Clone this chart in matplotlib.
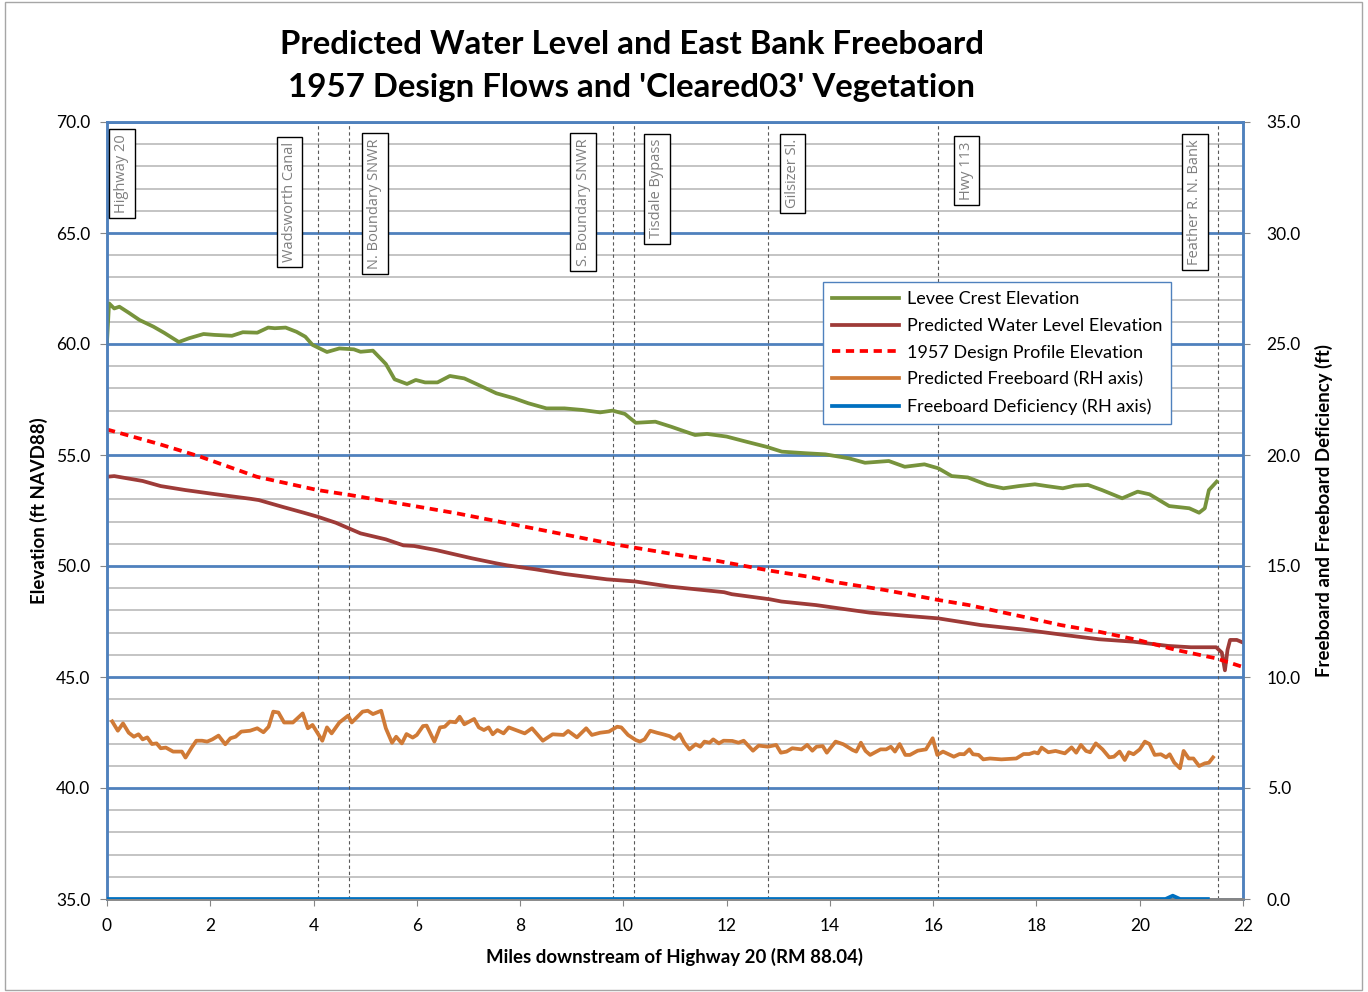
import matplotlib
matplotlib.use("Agg")
import matplotlib.pyplot as plt
from matplotlib.patches import Rectangle
from matplotlib.ticker import MultipleLocator
import matplotlib.transforms as mtransforms

plt.rcParams['font.family'] = ['Lato', 'DejaVu Sans']

# ---------------- data ----------------
levee_pts = [(0.0, 60.1), (0.04, 61.83), (0.14, 61.6), (0.24, 61.68), (0.42, 61.41), (0.63, 61.08),
             (0.90, 60.78), (1.11, 60.5), (1.39, 60.09), (1.59, 60.26), (1.87, 60.45), (2.08, 60.41),
             (2.42, 60.37), (2.63, 60.53), (2.91, 60.51), (3.12, 60.74), (3.25, 60.71), (3.46, 60.74),
             (3.67, 60.55), (3.84, 60.33), (3.98, 59.96), (4.26, 59.64), (4.50, 59.8), (4.78, 59.76),
             (4.91, 59.65), (5.15, 59.7), (5.40, 59.1), (5.57, 58.41), (5.81, 58.2), (5.98, 58.38),
             (6.16, 58.27), (6.40, 58.27), (6.64, 58.56), (6.92, 58.45), (7.20, 58.15), (7.54, 57.78),
             (7.89, 57.55), (8.16, 57.33), (8.51, 57.1), (8.86, 57.1), (9.20, 57.03), (9.55, 56.92),
             (9.79, 57.0), (10.03, 56.85), (10.24, 56.45), (10.62, 56.5), (10.93, 56.27), (11.39, 55.9),
             (11.62, 55.95), (12.00, 55.83), (12.38, 55.6), (12.77, 55.37), (13.07, 55.15), (13.53, 55.08),
             (13.91, 55.03), (14.37, 54.85), (14.68, 54.65), (15.14, 54.73), (15.45, 54.47), (15.83, 54.58),
             (16.10, 54.4), (16.36, 54.05), (16.67, 53.99), (17.05, 53.65), (17.36, 53.5), (17.66, 53.6),
             (17.97, 53.68), (18.20, 53.6), (18.51, 53.5), (18.74, 53.62), (19.00, 53.65), (19.27, 53.42),
             (19.66, 53.05), (19.96, 53.35), (20.19, 53.23), (20.57, 52.7), (20.96, 52.6), (21.15, 52.4),
             (21.26, 52.6), (21.34, 53.42), (21.49, 53.8)]

wse_pts = [(0.0, 54.02), (0.14, 54.05), (0.69, 53.83), (1.04, 53.6), (1.52, 53.42), (2.08, 53.24),
           (2.77, 53.03), (2.94, 52.97), (3.39, 52.67), (3.81, 52.4), (4.08, 52.22), (4.43, 51.95),
           (4.64, 51.74), (4.91, 51.47), (5.40, 51.2), (5.74, 50.93), (5.95, 50.9), (6.37, 50.72),
           (6.78, 50.5), (7.06, 50.35), (7.54, 50.12), (7.75, 50.03), (8.30, 49.85), (8.86, 49.64),
           (9.68, 49.4), (10.24, 49.3), (10.91, 49.07), (11.95, 48.82), (12.10, 48.73), (12.84, 48.5),
           (13.06, 48.4), (13.73, 48.24), (14.77, 47.9), (15.51, 47.75), (16.10, 47.64), (16.92, 47.34),
           (17.73, 47.14), (18.55, 46.89), (19.21, 46.7), (19.88, 46.59), (20.55, 46.4), (20.99, 46.34),
           (21.48, 46.34), (21.59, 46.1), (21.65, 45.3), (21.70, 46.22), (21.75, 46.67), (21.88, 46.67),
           (22.0, 46.55)]

design_pts = [(0.0, 56.15), (1.0, 55.5), (1.8, 54.93), (2.9, 54.02), (4.08, 53.42), (4.7, 53.2),
              (6.78, 52.37), (9.82, 50.98), (11.06, 50.5), (11.8, 50.24), (12.84, 49.79), (13.58, 49.52),
              (14.17, 49.25), (15.06, 48.92), (16.1, 48.47), (16.69, 48.24), (17.73, 47.72), (18.47, 47.34),
              (19.21, 47.04), (19.96, 46.67), (20.7, 46.22), (21.48, 45.84), (22.0, 45.45)]

freeboard_pts = [(0.10, 8.0), (0.21, 7.58), (0.31, 7.91), (0.42, 7.49), (0.52, 7.31), (0.61, 7.42),
                 (0.69, 7.19), (0.78, 7.28), (0.87, 6.98), (0.96, 7.01), (1.04, 6.79), (1.14, 6.82),
                 (1.28, 6.64), (1.45, 6.64), (1.52, 6.37), (1.65, 6.86), (1.73, 7.13), (1.84, 7.13),
                 (1.94, 7.09), (2.04, 7.19), (2.16, 7.36), (2.29, 6.97), (2.39, 7.24), (2.49, 7.31),
                 (2.60, 7.54), (2.77, 7.58), (2.91, 7.69), (3.03, 7.51), (3.13, 7.76), (3.22, 8.44),
                 (3.32, 8.4), (3.43, 7.95), (3.60, 7.95), (3.79, 8.36), (3.89, 7.69), (3.98, 7.84),
                 (4.17, 7.13), (4.26, 7.73), (4.35, 7.46), (4.50, 7.95), (4.67, 8.26), (4.74, 7.95),
                 (4.95, 8.44), (5.05, 8.48), (5.15, 8.33), (5.31, 8.48), (5.40, 7.69), (5.52, 7.04),
                 (5.60, 7.31), (5.71, 7.01), (5.80, 7.43), (5.92, 7.27), (6.00, 7.39), (6.12, 7.79),
                 (6.19, 7.81), (6.34, 7.09), (6.45, 7.73), (6.54, 7.76), (6.64, 7.99), (6.75, 7.96),
                 (6.83, 8.21), (6.92, 7.87), (7.11, 8.11), (7.20, 7.73), (7.30, 7.61), (7.39, 7.73),
                 (7.47, 7.42), (7.56, 7.61), (7.68, 7.46), (7.78, 7.73), (7.92, 7.61), (8.09, 7.46),
                 (8.23, 7.69), (8.44, 7.13), (8.63, 7.42), (8.84, 7.39), (8.93, 7.57), (9.10, 7.28),
                 (9.28, 7.69), (9.39, 7.39), (9.55, 7.49), (9.72, 7.54), (9.88, 7.76), (9.96, 7.73),
                 (10.09, 7.39), (10.24, 7.16), (10.32, 7.09), (10.41, 7.19), (10.52, 7.58), (10.65, 7.49),
                 (10.77, 7.42), (10.89, 7.34), (10.99, 7.21), (11.09, 7.43), (11.18, 7.04), (11.28, 6.74),
                 (11.40, 6.97), (11.49, 6.86), (11.57, 7.09), (11.67, 7.04), (11.74, 7.19), (11.85, 7.01),
                 (11.94, 7.13), (12.11, 7.12), (12.23, 7.04), (12.33, 7.13), (12.51, 6.68), (12.62, 6.91),
                 (12.80, 6.86), (12.96, 6.94), (13.05, 6.59), (13.16, 6.64), (13.27, 6.79), (13.45, 6.74),
                 (13.56, 6.94), (13.66, 6.68), (13.74, 6.86), (13.86, 6.89), (13.94, 6.59), (14.11, 7.09),
                 (14.26, 6.97), (14.44, 6.71), (14.51, 6.64), (14.60, 7.04), (14.69, 6.67), (14.78, 6.49),
                 (14.98, 6.74), (15.09, 6.74), (15.18, 6.86), (15.26, 6.64), (15.35, 6.98), (15.46, 6.49),
                 (15.55, 6.49), (15.70, 6.68), (15.86, 6.74), (15.99, 7.24), (16.08, 6.49), (16.19, 6.64),
                 (16.40, 6.41), (16.51, 6.53), (16.60, 6.52), (16.70, 6.74), (16.77, 6.52), (16.88, 6.49),
                 (16.97, 6.29), (17.10, 6.33), (17.32, 6.29), (17.61, 6.33), (17.75, 6.53), (17.86, 6.53),
                 (17.96, 6.61), (18.03, 6.56), (18.10, 6.82), (18.23, 6.61), (18.37, 6.67), (18.55, 6.56),
                 (18.68, 6.83), (18.77, 6.59), (18.86, 6.94), (18.96, 6.67), (19.04, 6.61), (19.15, 7.01),
                 (19.28, 6.74), (19.41, 6.38), (19.50, 6.41), (19.61, 6.64), (19.71, 6.26), (19.79, 6.61),
                 (19.88, 6.52), (20.00, 6.74), (20.10, 7.09), (20.19, 6.98), (20.29, 6.49), (20.41, 6.52),
                 (20.51, 6.38), (20.58, 6.52), (20.67, 6.14), (20.78, 5.89), (20.85, 6.67), (20.95, 6.33),
                 (21.04, 6.33), (21.15, 5.99), (21.26, 6.11), (21.34, 6.14), (21.42, 6.38)]

deficiency_pts = [(0.0, 0.0), (20.5, 0.0), (20.64, 0.15), (20.78, 0.0), (21.32, 0.0)]

landmark_miles = [4.09, 4.69, 9.79, 10.21, 12.81, 16.10, 21.51]
label_names = ["Highway 20", "Wadsworth Canal", "N. Boundary SNWR", "S. Boundary SNWR",
               "Tisdale Bypass", "Gilsizer Sl.", "Hwy 113", "Feather R. N. Bank"]
label_miles = [0.29, 3.54, 5.19, 9.22, 10.65, 13.27, 16.65, 21.07]
label_tops = [0.996, 0.986, 0.991, 0.991, 0.990, 0.990, 0.987, 0.990]

title = "Predicted Water Level and East Bank Freeboard\n1957 Design Flows and 'Cleared03' Vegetation"
xlabel = "Miles downstream of Highway 20 (RM 88.04)"
ylabel_left = "Elevation (ft NAVD88)"
ylabel_right = "Freeboard and Freeboard Deficiency (ft)"
legend_labels = ["Levee Crest Elevation", "Predicted Water Level Elevation", "1957 Design Profile Elevation",
                 "Predicted Freeboard (RH axis)", "Freeboard Deficiency (RH axis)"]

# ---------------- figure ----------------
W, H = 1368, 992
fig = plt.figure(figsize=(W / 100, H / 100), dpi=100)
fig.patches.append(Rectangle((5 / W, 2 / H), (1362 - 5) / W, (990 - 2) / H, transform=fig.transFigure,
                             fill=False, edgecolor='#A6A6A6', linewidth=1.0))

L, R, T, B = 107, 1243, 122, 899
ax = fig.add_axes([L / W, 1 - B / H, (R - L) / W, (B - T) / H])
ax2 = ax.twinx()

blue = '#4F81BD'
ax.set_xlim(0, 22)
ax.set_ylim(35, 70)
ax2.set_ylim(0, 35)

ax.xaxis.set_major_locator(MultipleLocator(2))
ax.yaxis.set_major_locator(MultipleLocator(5))
ax.yaxis.set_minor_locator(MultipleLocator(1))
ax2.yaxis.set_major_locator(MultipleLocator(5))

ax.grid(which='minor', axis='y', color='#BFBFBF', linewidth=1.3, zorder=0)
ax.grid(which='major', axis='y', color=blue, linewidth=2.0, zorder=0)
ax.grid(which='major', axis='x', visible=False)
ax.set_axisbelow(True)

for a in (ax, ax2):
    for s in a.spines.values():
        s.set_color(blue)
        s.set_linewidth(1.8)
    a.spines['bottom'].set_color('#868686')

ax.tick_params(axis='y', which='major', length=5, color='#868686', labelsize=12.5, pad=7)
ax.tick_params(axis='y', which='minor', length=0)
ax.tick_params(axis='x', which='major', length=5, color='#868686', labelsize=12.5, pad=9)
ax2.tick_params(axis='y', which='major', length=5, color='#868686', labelsize=12.5, pad=12)
ax.yaxis.set_major_formatter(matplotlib.ticker.FormatStrFormatter('%.1f'))
ax2.yaxis.set_major_formatter(matplotlib.ticker.FormatStrFormatter('%.1f'))

for m in landmark_miles:
    ax.axvline(m, color='#595959', linestyle=(0, (3, 2.5)), linewidth=0.8, zorder=1)

blend = mtransforms.blended_transform_factory(ax.transData, ax.transAxes)
for name, m, t in zip(label_names, label_miles, label_tops):
    ax2.text(m, t - 0.012, name, transform=blend, rotation=90, ha='center', va='top',
             fontsize=10.5, color='#7F7F7F', family=['Open Sans', 'DejaVu Sans'],
             bbox=dict(boxstyle='square,pad=0.35', facecolor='white', edgecolor='black', linewidth=1.0),
             zorder=6)

lx, ly = zip(*levee_pts)
wx, wy = zip(*wse_pts)
dx, dy = zip(*design_pts)
fx, fy = zip(*freeboard_pts)
qx, qy = zip(*deficiency_pts)

h1, = ax.plot(lx, ly, color='#77933C', linewidth=2.7, zorder=3, solid_joinstyle='round')
h2, = ax.plot(wx, wy, color='#9E3B38', linewidth=2.7, zorder=3, solid_joinstyle='round')
h3, = ax.plot(dx, dy, color='#FF0000', linewidth=2.7, linestyle=(0, (2.2, 1.5)), zorder=3)
h4, = ax2.plot(fx, fy, color='#D07A36', linewidth=2.7, zorder=3, solid_joinstyle='round')
h5, = ax2.plot(qx, qy, color='#0070C0', linewidth=2.7, zorder=3)

leg = ax2.legend([h1, h2, h3, h4, h5], legend_labels, loc='upper left',
                 bbox_to_anchor=((823 - L) / (R - L), 1 - (282 - T) / (B - T)),
                 fontsize=13.0, frameon=True, fancybox=False, edgecolor=blue, framealpha=1,
                 handlelength=3.7, handletextpad=0.45, labelspacing=0.6, borderpad=0.5,
                 borderaxespad=0)
leg.get_frame().set_linewidth(1.0)
leg.set_zorder(10)

fig.text(632 / W, 1 - 66 / H, title, ha='center', va='center', fontsize=23.8, fontweight='bold',
         linespacing=1.55)
ax.set_xlabel(xlabel, fontsize=13.4, fontweight='bold', labelpad=10)
ax.set_ylabel(ylabel_left, fontsize=13.4, fontweight='bold', labelpad=6)
ax2.set_ylabel(ylabel_right, fontsize=13.4, fontweight='bold', labelpad=10)

fig.savefig('out.png', dpi=100)
